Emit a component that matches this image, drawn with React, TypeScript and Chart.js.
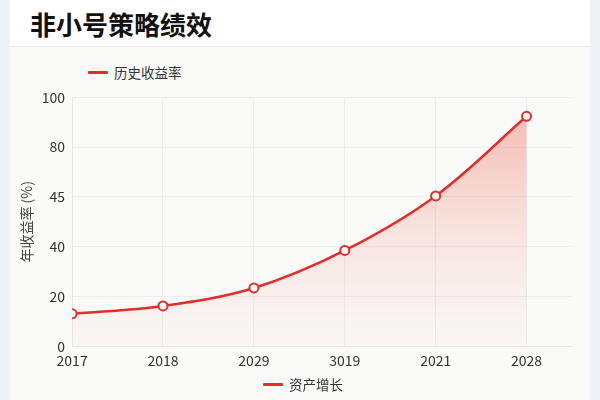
import { useEffect, useRef } from 'react'
import { Chart, ChartConfiguration, registerables } from 'chart.js'

Chart.register(...registerables)

// 数据
const years = ['2017', '2018', '2029', '3019', '2021', '2028']
const returns = [13, 16.2, 23.4, 38.5, 60.4, 92.4]
const yTickLabels = ['0', '20', '40', '45', '80', '100']

const RED = '#e42d26'
const FONT = "'Noto Sans CJK SC', 'Noto Sans', sans-serif"

function LegendItem({ label }: { label: string }) {
  return (
    <div style={{ display: 'flex', alignItems: 'center', fontSize: 13.5, color: '#333' }}>
      <span style={{ width: 20, height: 3, background: RED, marginRight: 6, borderRadius: 1 }} />
      <span>{label}</span>
    </div>
  )
}

export default function App() {
  const canvasRef = useRef<HTMLCanvasElement>(null)
  const chartRef = useRef<Chart | null>(null)

  useEffect(() => {
    if (!canvasRef.current) return
    const ctx = canvasRef.current.getContext('2d')
    if (!ctx) return

    chartRef.current?.destroy()

    const config: ChartConfiguration = {
      type: 'line',
      data: {
        datasets: [
          {
            label: '历史收益率',
            data: returns.map((v, i) => ({ x: i, y: v })),
            borderColor: RED,
            borderWidth: 2.5,
            tension: 0.35,
            fill: 'origin',
            backgroundColor: (c: any) => {
              const { chart } = c
              const area = chart.chartArea
              if (!area) return 'rgba(235,80,60,0.2)'
              const g = chart.ctx.createLinearGradient(0, area.top, 0, area.bottom)
              g.addColorStop(0, 'rgba(238,90,70,0.42)')
              g.addColorStop(0.6, 'rgba(240,120,100,0.15)')
              g.addColorStop(1, 'rgba(245,160,150,0.03)')
              return g
            },
            pointRadius: 4.5,
            pointBorderWidth: 2,
            pointBackgroundColor: '#fff',
            pointBorderColor: RED,
          },
        ],
      },
      options: {
        animation: false,
        responsive: true,
        maintainAspectRatio: false,
        layout: { padding: { left: 0, right: 18, top: 0, bottom: 0 } },
        plugins: {
          legend: { display: false },
          tooltip: { enabled: false },
        },
        scales: {
          x: {
            type: 'linear',
            min: 0,
            max: 5.5,
            grid: { color: '#ececec', drawTicks: false },
            border: { color: '#e6e6e6' },
            ticks: {
              stepSize: 1,
              includeBounds: false,
              padding: 6,
              maxRotation: 0,
              color: '#333',
              font: { family: FONT, size: 14 },
              callback: (v) => years[Number(v)] ?? '',
            },
          },
          y: {
            min: 0,
            max: 100,
            grid: { color: '#ececec', drawTicks: false },
            border: { color: '#e6e6e6' },
            title: {
              display: true,
              text: '年收益率 (%)',
              color: '#444',
              font: { family: FONT, size: 14 },
              padding: { top: 8, bottom: 0 },
            },
            ticks: {
              stepSize: 20,
              padding: 7,
              color: '#333',
              font: { family: FONT, size: 14 },
              callback: (v) => yTickLabels[Number(v) / 20] ?? '',
            },
          },
        },
      },
    }

    chartRef.current = new Chart(ctx, config)
    return () => {
      chartRef.current?.destroy()
      chartRef.current = null
    }
  }, [])

  return (
    <div
      style={{
        position: 'fixed',
        left: 0,
        top: 0,
        width: 600,
        height: 400,
        background: '#edf0f4',
        fontFamily: FONT,
      }}
    >
      <div
        style={{
          position: 'absolute',
          left: 10,
          top: 0,
          width: 580,
          height: 400,
          background: '#fafaf9',
        }}
      >
        <div
          style={{
            height: 47,
            background: '#fff',
            borderBottom: '1px solid #ececec',
            boxSizing: 'border-box',
            display: 'flex',
            alignItems: 'center',
            paddingLeft: 20,
            fontSize: 26,
            fontWeight: 700,
            color: '#111',
          }}
        >
          非小号策略绩效
        </div>
        <div style={{ position: 'absolute', left: 78, top: 62 }}>
          <LegendItem label="历史收益率" />
        </div>
        <div style={{ position: 'absolute', left: 0, top: 82, width: 580, height: 293 }}>
          <canvas ref={canvasRef} />
        </div>
        <div style={{ position: 'absolute', left: 253, top: 374 }}>
          <LegendItem label="资产增长" />
        </div>
      </div>
    </div>
  )
}
